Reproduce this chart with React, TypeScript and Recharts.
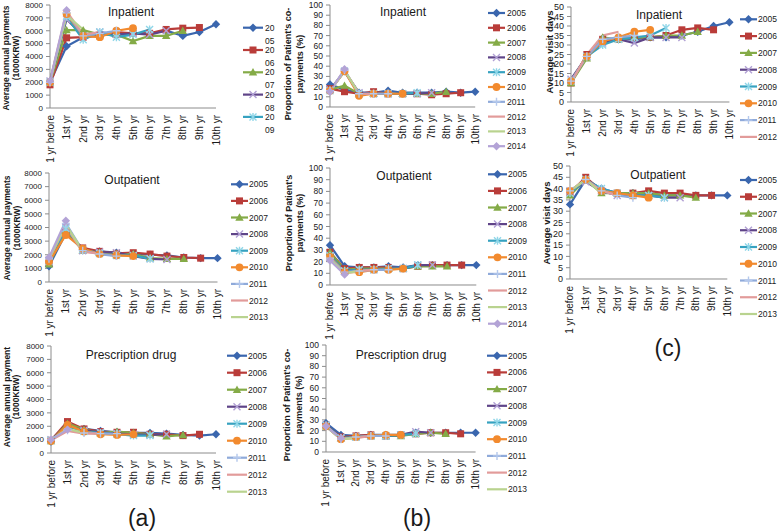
import React from "react";
import { LineChart, Line, XAxis, YAxis } from "recharts";

const categories = ["1 yr before", "1st yr", "2nd yr", "3rd yr", "4th yr", "5th yr", "6th yr", "7th yr", "8th yr", "9th yr", "10th yr"];
const years = ["2005", "2006", "2007", "2008", "2009", "2010", "2011", "2012", "2013", "2014"];

const payTicks = [0, 1000, 2000, 3000, 4000, 5000, 6000, 7000, 8000];
const shareTicks = [0, 10, 20, 30, 40, 50, 60, 70, 80, 90, 100];
const dayTicks = [0, 5, 10, 15, 20, 25, 30, 35, 40, 45, 50];
// category boundaries, where the x axis tick marks sit
const bandEdges = [0, 1, 2, 3, 4, 5, 6, 7, 8, 9, 10, 11];

// (a) average annual payments (1000 KRW), one row per cohort
const inpatientPayments = [
  [2000, 4800, 5500, 5700, 5700, 5800, 5800, 6000, 5600, 5900, 6500],
  [1800, 5450, 5500, 5600, 5900, 5800, 5800, 6100, 6200, 6250],
  [2000, 6050, 6050, 5700, 5700, 5200, 5600, 5600, 6000],
  [2100, 6900, 5600, 5900, 5700, 5800, 5700, 6000],
  [2000, 7100, 5300, 5900, 5500, 5700, 6100],
  [2000, 7300, 5600, 5500, 6000, 6200],
  [2000, 7400, 5600, 5800, 6000],
  [2100, 7500, 5700, 5900],
  [2100, 7200, 6100],
  [2100, 7600],
];
const outpatientPayments = [
  [1150, 3600, 2400, 2250, 2150, 2050, 2000, 1950, 1800, 1750, 1750],
  [1400, 3600, 2500, 2250, 2100, 2150, 2050, 1900, 1800, 1750],
  [1300, 3800, 2300, 2150, 2050, 2050, 1750, 1700, 1700],
  [1600, 4000, 2300, 2200, 2150, 1900, 1700, 1650],
  [1500, 3900, 2400, 2100, 1950, 1950, 1700],
  [1500, 3450, 2450, 2050, 1950, 1900],
  [1700, 4300, 2300, 2050, 1900],
  [1700, 4100, 2200, 2100],
  [1700, 4200, 2300],
  [1800, 4500],
];
const prescriptionPayments = [
  [850, 2100, 1800, 1650, 1550, 1500, 1500, 1450, 1350, 1300, 1400],
  [950, 2350, 1800, 1600, 1550, 1550, 1400, 1400, 1300, 1400],
  [900, 2200, 1750, 1500, 1600, 1500, 1400, 1250, 1350],
  [1000, 2000, 1700, 1550, 1450, 1400, 1350, 1400],
  [950, 2000, 1600, 1500, 1400, 1300, 1300],
  [900, 2100, 1600, 1400, 1350, 1400],
  [1000, 1700, 1500, 1450, 1450],
  [950, 1650, 1450, 1450],
  [1000, 1800, 1500],
  [1000, 1750],
];

// (b) proportion of patient's co-payments (%)
const inpatientShare = [
  [22, 17, 14, 14, 16, 14, 14, 14, 15, 14, 15],
  [18, 15, 13, 15, 13, 13, 13, 12, 13, 14],
  [17, 21, 13, 13, 13, 13, 13, 13, 15],
  [17, 35, 14, 13, 13, 13, 13, 14],
  [16, 35, 13, 13, 13, 13, 14],
  [16, 35, 11, 13, 13, 13],
  [16, 36, 13, 13, 13],
  [15, 36, 13, 13],
  [15, 36, 13],
  [15, 37],
];
const outpatientShare = [
  [34, 16, 15, 15, 16, 15, 17, 17, 17, 17, 17],
  [28, 14, 15, 15, 15, 14, 16, 17, 17, 17],
  [28, 13, 14, 14, 14, 14, 16, 16, 16],
  [25, 12, 13, 13, 14, 14, 17, 17],
  [25, 12, 13, 13, 14, 14, 17],
  [24, 11, 11, 13, 13, 14],
  [23, 11, 12, 13, 13],
  [22, 10, 12, 13],
  [22, 10, 12],
  [21, 9],
];
const prescriptionShare = [
  [27, 16, 15, 16, 16, 16, 18, 18, 18, 18, 18],
  [25, 14, 15, 16, 15, 16, 17, 18, 18, 17],
  [24, 13, 14, 15, 15, 15, 17, 18, 17],
  [25, 13, 14, 15, 15, 16, 19, 18],
  [25, 13, 14, 15, 15, 16, 17],
  [24, 12, 14, 15, 16, 16],
  [24, 12, 14, 15, 15],
  [24, 12, 13, 15],
  [24, 12, 13],
  [24, 13],
];

// (c) average visit days
const inpatientDays = [
  [11, 24, 32, 33, 33, 34, 34, 35, 37, 40, 42],
  [10, 25, 33, 33, 34, 34, 35, 38, 39, 38],
  [10, 23, 34, 33, 34, 34, 35, 35, 37],
  [12, 24, 31, 33, 31, 34, 34, 34],
  [11, 24, 30, 33, 34, 35, 39],
  [11, 24, 32, 34, 37, 38],
  [11, 24, 33, 34, 35],
  [10, 25, 35, 37],
];
const outpatientDays = [
  [33, 44, 40, 38, 38, 38, 37, 37, 37, 37, 37],
  [38, 45, 39, 38, 38, 39, 38, 38, 37, 37],
  [37, 44, 38, 38, 38, 38, 37, 37, 36],
  [39, 43, 39, 37, 37, 37, 36, 36],
  [38, 44, 40, 38, 37, 37, 36],
  [39, 44, 39, 38, 37, 36],
  [39, 44, 39, 37, 36],
  [39, 44, 39, 37],
  [39, 44, 38],
];

const FONT = "'Liberation Sans', Arial, Helvetica, sans-serif";
const AXIS = "#8c8c8c";
const TXT = "#1a1a1a";

const lineColors = ["#3A66AE", "#B93C39", "#84AB47", "#5F4488", "#36A2C0", "#F28A2E", "#8FAADA", "#E29B9A", "#B9D38F", "#B3A3D6"];
const markColors = ["#3A66AE", "#B93C39", "#84AB47", "#B1A0D4", "#8FD6E8", "#F28A2E", "#B4C8EC", "#E29B9A", "#B9D38F", "#B3A3D6"];
const shapes = ["diamond", "square", "triangle", "cross", "star", "circle", "plus", "none", "none", "diamond"];

function Marker({ cx, cy, s }: { cx: number; cy: number; s: number }) {
  const c = markColors[s];
  switch (shapes[s]) {
    case "diamond":
      return <path d={`M${cx},${cy - 4.2}L${cx + 4.2},${cy}L${cx},${cy + 4.2}L${cx - 4.2},${cy}Z`} fill={c} />;
    case "square":
      return <rect x={cx - 3.5} y={cy - 3.5} width={7} height={7} fill={c} />;
    case "triangle":
      return <path d={`M${cx},${cy - 4.2}L${cx + 4.2},${cy + 3.2}L${cx - 4.2},${cy + 3.2}Z`} fill={c} />;
    case "cross":
      return <path d={`M${cx - 3.5},${cy - 3.5}L${cx + 3.5},${cy + 3.5}M${cx - 3.5},${cy + 3.5}L${cx + 3.5},${cy - 3.5}`} stroke={c} strokeWidth={1.4} />;
    case "star":
      return <path d={`M${cx - 3.5},${cy - 3.5}L${cx + 3.5},${cy + 3.5}M${cx - 3.5},${cy + 3.5}L${cx + 3.5},${cy - 3.5}M${cx},${cy - 4}L${cx},${cy + 4}`} stroke={c} strokeWidth={1.4} />;
    case "circle":
      return <circle cx={cx} cy={cy} r={3.9} fill={c} />;
    case "plus":
      return <path d={`M${cx - 4},${cy}L${cx + 4},${cy}M${cx},${cy - 4}L${cx},${cy + 4}`} stroke={c} strokeWidth={1.4} />;
    default:
      return <g />;
  }
}

function buildRows(rows: number[][]) {
  return categories.map((cat, i) => {
    const r: Record<string, any> = { cat };
    rows.forEach((vals, s) => {
      if (i < vals.length) r[years[s]] = vals[i];
    });
    return r;
  });
}

const XTick = (p: any) => (
  <text
    x={p.x}
    y={p.y}
    transform={`rotate(-90 ${p.x} ${p.y})`}
    textAnchor="end"
    dominantBaseline="central"
    fontSize={10}
    fontFamily={FONT}
    fill={TXT}
  >
    {p.payload.value}
  </text>
);

const NoLabel = () => <g />;

type Cfg = {
  rows: number[][];
  box: [number, number, number, number];
  domain: [number, number];
  ticks: number[];
  tickFont: number;
};

function ChartPanel({ cfg }: { cfg: Cfg }) {
  const [x0, x1, y0, y1] = cfg.box;
  const yw = 34;
  const xh = 60;
  const left = x0 - yw - 2;
  const top = y0 - 8;
  const width = x1 - left + 12;
  const height = y1 - top + xh + 2;
  const data = buildRows(cfg.rows);
  return (
    <div style={{ position: "absolute", left, top, width, height }}>
      <LineChart width={width} height={height} data={data} margin={{ top: 8, left: 2, right: 12, bottom: 2 }}>
        <XAxis
          xAxisId="edges"
          type="number"
          domain={[0, 11]}
          ticks={bandEdges}
          interval={0}
          height={0}
          tickSize={4}
          axisLine={false}
          tickLine={{ stroke: AXIS }}
          tick={NoLabel}
        />
        <XAxis
          dataKey="cat"
          interval={0}
          tickSize={4}
          tickMargin={3}
          tickLine={false}
          axisLine={{ stroke: AXIS }}
          height={xh}
          tick={XTick}
        />
        <YAxis
          width={yw}
          domain={cfg.domain}
          ticks={cfg.ticks}
          interval={0}
          tickSize={4}
          tickMargin={3}
          axisLine={{ stroke: AXIS }}
          tickLine={{ stroke: AXIS }}
          tick={{ fontSize: cfg.tickFont, fill: TXT, fontFamily: FONT }}
        />
        {cfg.rows.map((_, s) => (
          <Line
            key={years[s]}
            dataKey={years[s]}
            stroke={lineColors[s]}
            strokeWidth={2.2}
            isAnimationActive={false}
            dot={(p: any) =>
              p.cy == null || p.value == null ? (
                <g key={`${s}-${p.index}`} />
              ) : (
                <Marker key={`${s}-${p.index}`} cx={p.cx} cy={p.cy} s={s} />
              )
            }
            activeDot={false}
          />
        ))}
      </LineChart>
    </div>
  );
}

type Leg = { x0: number; x1: number; tx: number; y: number; dy: number; n: number; split?: boolean };

function LegendBlock({ l }: { l: Leg }) {
  const items = years.slice(0, l.n);
  return (
    <g>
      {items.map((yr, i) => {
        const y = l.y + i * l.dy;
        return (
          <g key={yr}>
            <line x1={l.x0} x2={l.x1} y1={y} y2={y} stroke={lineColors[i]} strokeWidth={2.2} />
            <Marker cx={(l.x0 + l.x1) / 2} cy={y} s={i} />
            {l.split ? (
              <>
                <text x={l.tx} y={y} dominantBaseline="central" fontSize={8.5} fill={TXT}>{yr.slice(0, 2)}</text>
                <text x={l.tx} y={y + 13} dominantBaseline="central" fontSize={8.5} fill={TXT}>{yr.slice(2)}</text>
              </>
            ) : (
              <text x={l.tx} y={y} dominantBaseline="central" fontSize={8.5} fill={TXT}>{yr}</text>
            )}
          </g>
        );
      })}
    </g>
  );
}

const panels: { cfg: Cfg; title: [string, number, number]; ylab: string[]; lx: number[]; ly: number; lf: number; leg: Leg }[] = [
  {
    cfg: { rows: inpatientPayments, box: [50, 216, 5, 108], domain: [0, 8000], ticks: payTicks, tickFont: 8 },
    title: ["Inpatient", 131, 12], ylab: ["Average annual payments", "(1000KRW)"], lx: [6, 16], ly: 58, lf: 8.5,
    leg: { x0: 243, x1: 263, tx: 265, y: 27.7, dy: 22.3, n: 5, split: true },
  },
  {
    cfg: { rows: outpatientPayments, box: [48.5, 217, 173, 282], domain: [0, 8000], ticks: payTicks, tickFont: 8 },
    title: ["Outpatient", 132, 180], ylab: ["Average annual payments", "(1000KRW)"], lx: [7, 16.5], ly: 228, lf: 8.5,
    leg: { x0: 231, x1: 248, tx: 249, y: 184.3, dy: 16.6, n: 9 },
  },
  {
    cfg: { rows: prescriptionPayments, box: [50.5, 215.5, 346, 453], domain: [0, 8000], ticks: payTicks, tickFont: 8 },
    title: ["Prescription drug", 131, 355], ylab: ["Average annual payment", "(1000KRW)"], lx: [6.5, 16], ly: 397, lf: 8.5,
    leg: { x0: 227, x1: 247, tx: 248, y: 355.7, dy: 17, n: 9 },
  },
  {
    cfg: { rows: inpatientShare, box: [330.4, 475.6, 5, 107], domain: [0, 100], ticks: shareTicks, tickFont: 8.5 },
    title: ["Inpatient", 403, 12], ylab: ["Proportion of Patient's co-", "payments (%)"], lx: [288, 300], ly: 64, lf: 9,
    leg: { x0: 488, x1: 505, tx: 507, y: 13, dy: 14.8, n: 10 },
  },
  {
    cfg: { rows: outpatientShare, box: [330.3, 476.6, 168, 285], domain: [0, 100], ticks: shareTicks, tickFont: 8.5 },
    title: ["Outpatient", 404, 176], ylab: ["Proportion of Patient's", "payments (%)"], lx: [289, 300], ly: 223, lf: 9,
    leg: { x0: 488, x1: 507, tx: 508, y: 174.3, dy: 16.6, n: 10 },
  },
  {
    cfg: { rows: prescriptionShare, box: [326.2, 475.8, 345, 452], domain: [0, 100], ticks: shareTicks, tickFont: 8.5 },
    title: ["Prescription drug", 401, 355], ylab: ["Proportion of Patient's co-", "payments (%)"], lx: [287, 299], ly: 405, lf: 9,
    leg: { x0: 487, x1: 507, tx: 508, y: 355.7, dy: 16.7, n: 9 },
  },
  {
    cfg: { rows: inpatientDays, box: [570.8, 729.2, 7, 102], domain: [0, 50], ticks: dayTicks, tickFont: 9 },
    title: ["Inpatient", 659, 15], ylab: ["Average visit days"], lx: [549], ly: 52, lf: 9.5,
    leg: { x0: 740, x1: 757, tx: 758, y: 19.3, dy: 16.8, n: 8 },
  },
  {
    cfg: { rows: outpatientDays, box: [569.9, 727.2, 166, 279], domain: [0, 50], ticks: dayTicks, tickFont: 9 },
    title: ["Outpatient", 658, 175], ylab: ["Average visit days"], lx: [546], ly: 223, lf: 9.5,
    leg: { x0: 740, x1: 757, tx: 758, y: 180, dy: 16.75, n: 9 },
  },
];

const letters: [string, number, number][] = [
  ["(a)", 142, 518],
  ["(b)", 417, 518],
  ["(c)", 668, 348],
];

export default function App() {
  return (
    <div style={{ position: "absolute", left: 0, top: 0, width: 778, height: 532, background: "#fff", fontFamily: FONT, overflow: "hidden" }}>
      {panels.map((p, i) => (
        <ChartPanel key={i} cfg={p.cfg} />
      ))}
      <svg width={778} height={532} style={{ position: "absolute", left: 0, top: 0, pointerEvents: "none" }} fontFamily={FONT}>
        {panels.map((p, i) => (
          <g key={i}>
            <text x={p.title[1]} y={p.title[2]} textAnchor="middle" dominantBaseline="central" fontSize={12} fill={TXT}>
              {p.title[0]}
            </text>
            {p.ylab.map((t, j) => (
              <text
                key={j}
                transform={`translate(${p.lx[j]},${p.ly}) rotate(-90)`}
                textAnchor="middle"
                dominantBaseline="central"
                fontSize={p.lf}
                fontWeight="bold"
                fill={TXT}
              >
                {t}
              </text>
            ))}
            <LegendBlock l={p.leg} />
          </g>
        ))}
        {letters.map(([t, x, y]) => (
          <text key={t} x={x} y={y} textAnchor="middle" dominantBaseline="central" fontSize={23} fill={TXT}>
            {t}
          </text>
        ))}
      </svg>
    </div>
  );
}
